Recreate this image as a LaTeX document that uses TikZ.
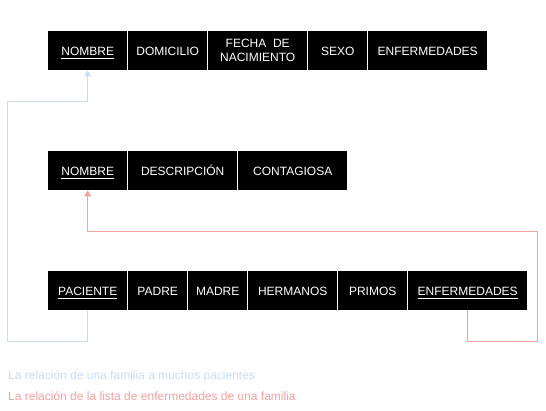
\documentclass[tikz,border=0pt]{standalone}
\usepackage{fontspec}
\setmainfont{Liberation Sans}
\usetikzlibrary{arrows.meta}
\definecolor{relblue}{RGB}{204,219,248}
\definecolor{relred}{RGB}{244,160,160}
\newcommand\ulkey[1]{\setbox0\hbox{#1}\leavevmode\rlap{\raisebox{-2.2pt}[0pt][0pt]{\rule{\wd0}{0.6pt}}}\box0}
\tikzset{
  cellbase/.style={draw=none, fill=black, text=white, inner sep=0pt, anchor=north west,
    minimum height=39pt, align=center, font=\fontsize{12}{14}\selectfont},
  cell/.style={cellbase, text height=10.6pt, text depth=0pt},
  relline/.style={line width=0.9pt},
  reltip/.style={-{Triangle[length=6pt,width=7pt]}},
  legend/.style={anchor=west, inner sep=0pt, font=\fontsize{12}{14}\selectfont}
}
\begin{document}
\begin{tikzpicture}[x=1pt,y=-1pt]
\useasboundingbox (0,0) rectangle (546,411);
% table 1
\node[cell, minimum width=79pt]  (t1nom) at (48,31)  {\ulkey{NOMBRE}};
\node[cell, minimum width=79pt]  (t1dom) at (128,31) {DOMICILIO};
\node[cellbase, minimum width=99pt]  (t1fec) at (208,31) {FECHA\ \ DE\\NACIMIENTO};
\node[cell, minimum width=59pt]  (t1sex) at (308,31) {SEXO};
\node[cell, minimum width=119pt] (t1enf) at (368,31) {ENFERMEDADES};
% table 2
\node[cell, minimum width=79pt]  (t2nom) at (48,151)  {\ulkey{NOMBRE}};
\node[cell, minimum width=109pt] (t2des) at (128,151) {DESCRIPCIÓN};
\node[cell, minimum width=109pt] (t2con) at (238,151) {CONTAGIOSA};
% table 3
\node[cell, minimum width=79pt]  (t3pac) at (48,271)  {\ulkey{PACIENTE}};
\node[cell, minimum width=59pt]  (t3pad) at (128,271) {PADRE};
\node[cell, minimum width=59pt]  (t3mad) at (188,271) {MADRE};
\node[cell, minimum width=89pt]  (t3her) at (248,271) {HERMANOS};
\node[cell, minimum width=69pt]  (t3pri) at (338,271) {PRIMOS};
\node[cell, minimum width=119pt] (t3enf) at (408,271) {\ulkey{ENFERMEDADES}};
% connectors
\coordinate (cb1) at (7,341);
\coordinate (cb2) at (7,101);
\coordinate (cr1) at (537,341);
\coordinate (cr2) at (537,231);
\draw[relline, relblue, reltip] (t3pac.south) |- (cb1) -- (cb2) -| (t1nom.south);
\draw[relline, relred, reltip] (t3enf.south) |- (cr1) -- (cr2) -| (t2nom.south);
% legend
\node[legend, text=relblue] (lb) at (8,376) {La relación de una familia a muchos pacientes};
\node[legend, text=relred]  (lr) at (8,396) {La relación de la lista de enfermedades de una familia};
\end{tikzpicture}
\end{document}
